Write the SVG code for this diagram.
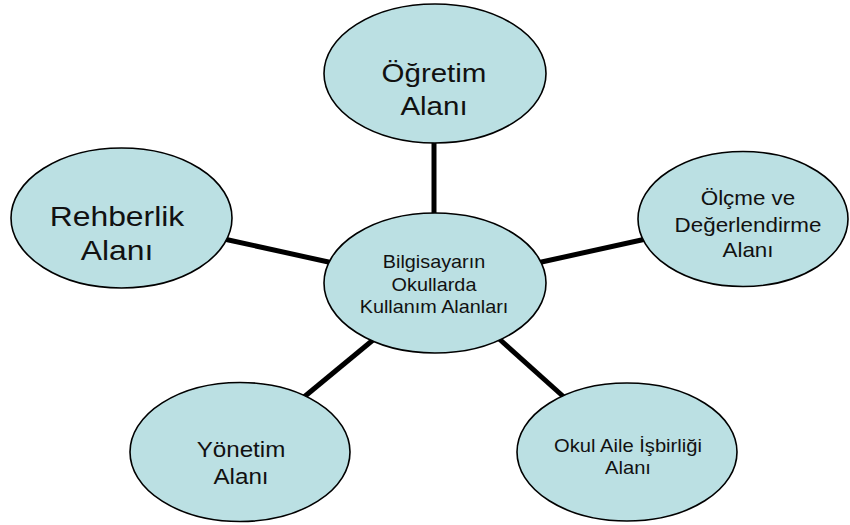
<svg xmlns="http://www.w3.org/2000/svg" width="850" height="525" viewBox="0 0 850 525">
  <style>
    .node { fill: #BBE0E3; stroke: #000; stroke-width: 1.6; }
    .edge { stroke: #000; stroke-width: 5; fill: none; }
    text { font-family: "Liberation Sans", Arial, sans-serif; fill: #111; text-anchor: middle; }
  </style>
  <rect width="850" height="525" fill="#fff"/>
  <g id="connectors">
    <line class="edge" x1="434" y1="140" x2="434" y2="216"/>
    <line class="edge" x1="224" y1="239" x2="333" y2="263"/>
    <line class="edge" x1="537" y1="263" x2="646" y2="239"/>
    <line class="edge" x1="304" y1="397" x2="373" y2="340"/>
    <line class="edge" x1="497" y1="337" x2="565" y2="398"/>
  </g>
  <g id="center">
    <ellipse class="node" cx="435" cy="283" rx="111" ry="70"/>
    <g transform="translate(434,0) scale(1.12,1)" font-size="17.7">
      <text x="0" y="268.5">Bilgisayarın</text>
      <text x="0" y="291">Okullarda</text>
      <text x="0" y="313.5">Kullanım Alanları</text>
    </g>
  </g>
  <g id="ogretim">
    <ellipse class="node" cx="435" cy="73.5" rx="111" ry="69.5"/>
    <g transform="translate(434,0) scale(1.18,1)" font-size="25">
      <text x="0" y="82">Öğretim</text>
      <text x="0" y="115">Alanı</text>
    </g>
  </g>
  <g id="rehberlik">
    <ellipse class="node" cx="121.5" cy="218" rx="110.5" ry="70"/>
    <g transform="translate(117,0) scale(1.18,1)" font-size="27">
      <text x="0" y="226">Rehberlik</text>
      <text x="0" y="260">Alanı</text>
    </g>
  </g>
  <g id="olcme">
    <ellipse class="node" cx="743" cy="219" rx="105" ry="67.5"/>
    <g transform="translate(748,0) scale(1.12,1)" font-size="20">
      <text x="0" y="205">Ölçme ve</text>
      <text x="0" y="232">Değerlendirme</text>
      <text x="0" y="257">Alanı</text>
    </g>
  </g>
  <g id="yonetim">
    <ellipse class="node" cx="240" cy="452" rx="110" ry="69.5"/>
    <g transform="translate(241,0) scale(1.1,1)" font-size="22">
      <text x="0" y="457">Yönetim</text>
      <text x="0" y="484">Alanı</text>
    </g>
  </g>
  <g id="okul-aile">
    <ellipse class="node" cx="627" cy="452" rx="110" ry="69"/>
    <g transform="translate(628,0) scale(1.12,1)" font-size="18">
      <text x="0" y="452">Okul Aile İşbirliği</text>
      <text x="0" y="474">Alanı</text>
    </g>
  </g>
</svg>
